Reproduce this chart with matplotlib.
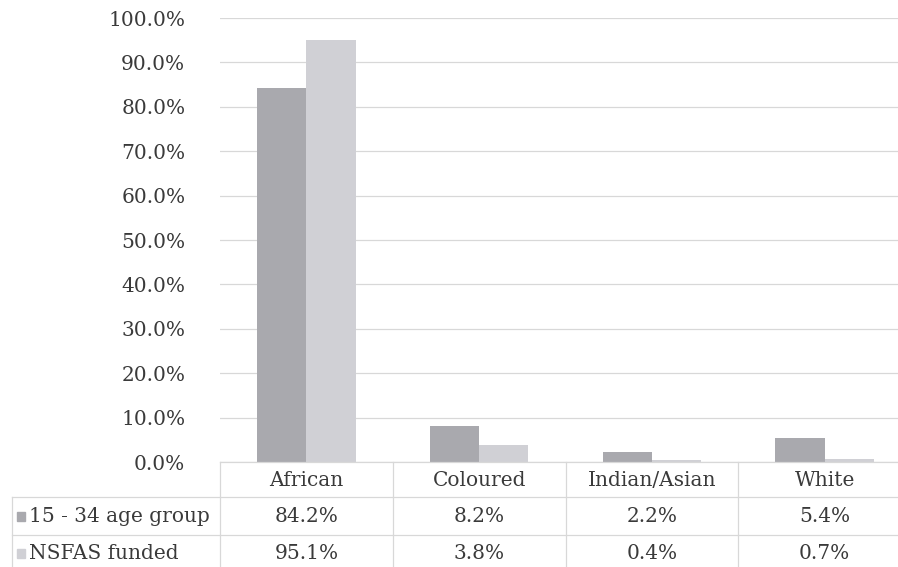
import numpy as np
import matplotlib.pyplot as plt
import matplotlib.transforms as mtransforms
from matplotlib.patches import Rectangle

plt.rcParams["font.family"] = ["DejaVu Serif"]

categories = ["African", "Coloured", "Indian/Asian", "White"]
series_names = ["15 - 34 age group", "NSFAS funded"]
age_group = [84.2, 8.2, 2.2, 5.4]
nsfas = [95.1, 3.8, 0.4, 0.7]
yticks = [0, 10, 20, 30, 40, 50, 60, 70, 80, 90, 100]

colors = ["#a9a9ae", "#d0d0d5"]
text_color = "#3a3a3a"
line_color = "#d8d8d8"
fs = 14.5

W, H = 898, 567
fig = plt.figure(figsize=(W / 100, H / 100), dpi=100)
# plot area in pixels: x 220..911 (runs past the right edge), y 18..462
ax = fig.add_axes([220 / W, (H - 462) / H, 691 / W, 444 / H])

x = np.arange(len(categories))
bw = 0.285
ax.bar(x - bw / 2, age_group, bw, color=colors[0], zorder=2)
ax.bar(x + bw / 2, nsfas, bw, color=colors[1], zorder=2)

ax.set_xlim(-0.5, len(categories) - 0.5)
ax.set_ylim(0, 100)
ax.set_yticks(yticks)
ax.set_yticklabels([f"{v:.1f}%" for v in yticks])
ax.tick_params(axis="y", length=0, pad=25, labelsize=fs, labelcolor=text_color)
ax.set_xticks([])
ax.grid(axis="y", color=line_color, linewidth=0.9, zorder=0)
for s in ax.spines.values():
    s.set_visible(False)

# data table under the axis
ax_h = 444.0
ax_w = 691.0
row_edges = [0, 35, 73, 110]  # pixel offsets below the zero line
trans = mtransforms.blended_transform_factory(ax.transData, ax.transAxes)
left_ax = (12 - 220) / ax_w

def ya(px):
    return -px / ax_h

# horizontal lines
ax.plot([-0.5, len(categories) - 0.5], [0, 0], transform=trans, color=line_color,
        lw=0.9, clip_on=False)
for r in row_edges[1:]:
    ax.plot([left_ax, 1], [ya(r), ya(r)], transform=ax.transAxes, color=line_color,
            lw=0.9, clip_on=False)
# vertical lines
for b in np.arange(len(categories) + 1) - 0.5:
    ax.plot([b, b], [0, ya(row_edges[-1])], transform=trans, color=line_color,
            lw=0.9, clip_on=False)
ax.plot([left_ax, left_ax], [ya(row_edges[1]), ya(row_edges[-1])], transform=ax.transAxes,
        color=line_color, lw=0.9, clip_on=False)

# header row
for i, c in enumerate(categories):
    ax.text(i, ya((row_edges[0] + row_edges[1]) / 2 + 1), c, transform=trans, ha="center",
            va="center", fontsize=fs, color=text_color)

# series rows
for k, (name, vals) in enumerate(zip(series_names, [age_group, nsfas])):
    yc = ya((row_edges[k + 1] + row_edges[k + 2]) / 2)
    ax.add_patch(Rectangle(((17 - 220) / ax_w, yc - 4.5 / ax_h), 8 / ax_w, 9 / ax_h,
                           transform=ax.transAxes, color=colors[k], clip_on=False))
    ax.text((29 - 220) / ax_w, yc, name, transform=ax.transAxes, ha="left", va="center",
            fontsize=fs, color=text_color)
    for i, v in enumerate(vals):
        ax.text(i, yc, f"{v:.1f}%", transform=trans, ha="center", va="center",
                fontsize=fs, color=text_color)

fig.savefig("out.png", dpi=100)
